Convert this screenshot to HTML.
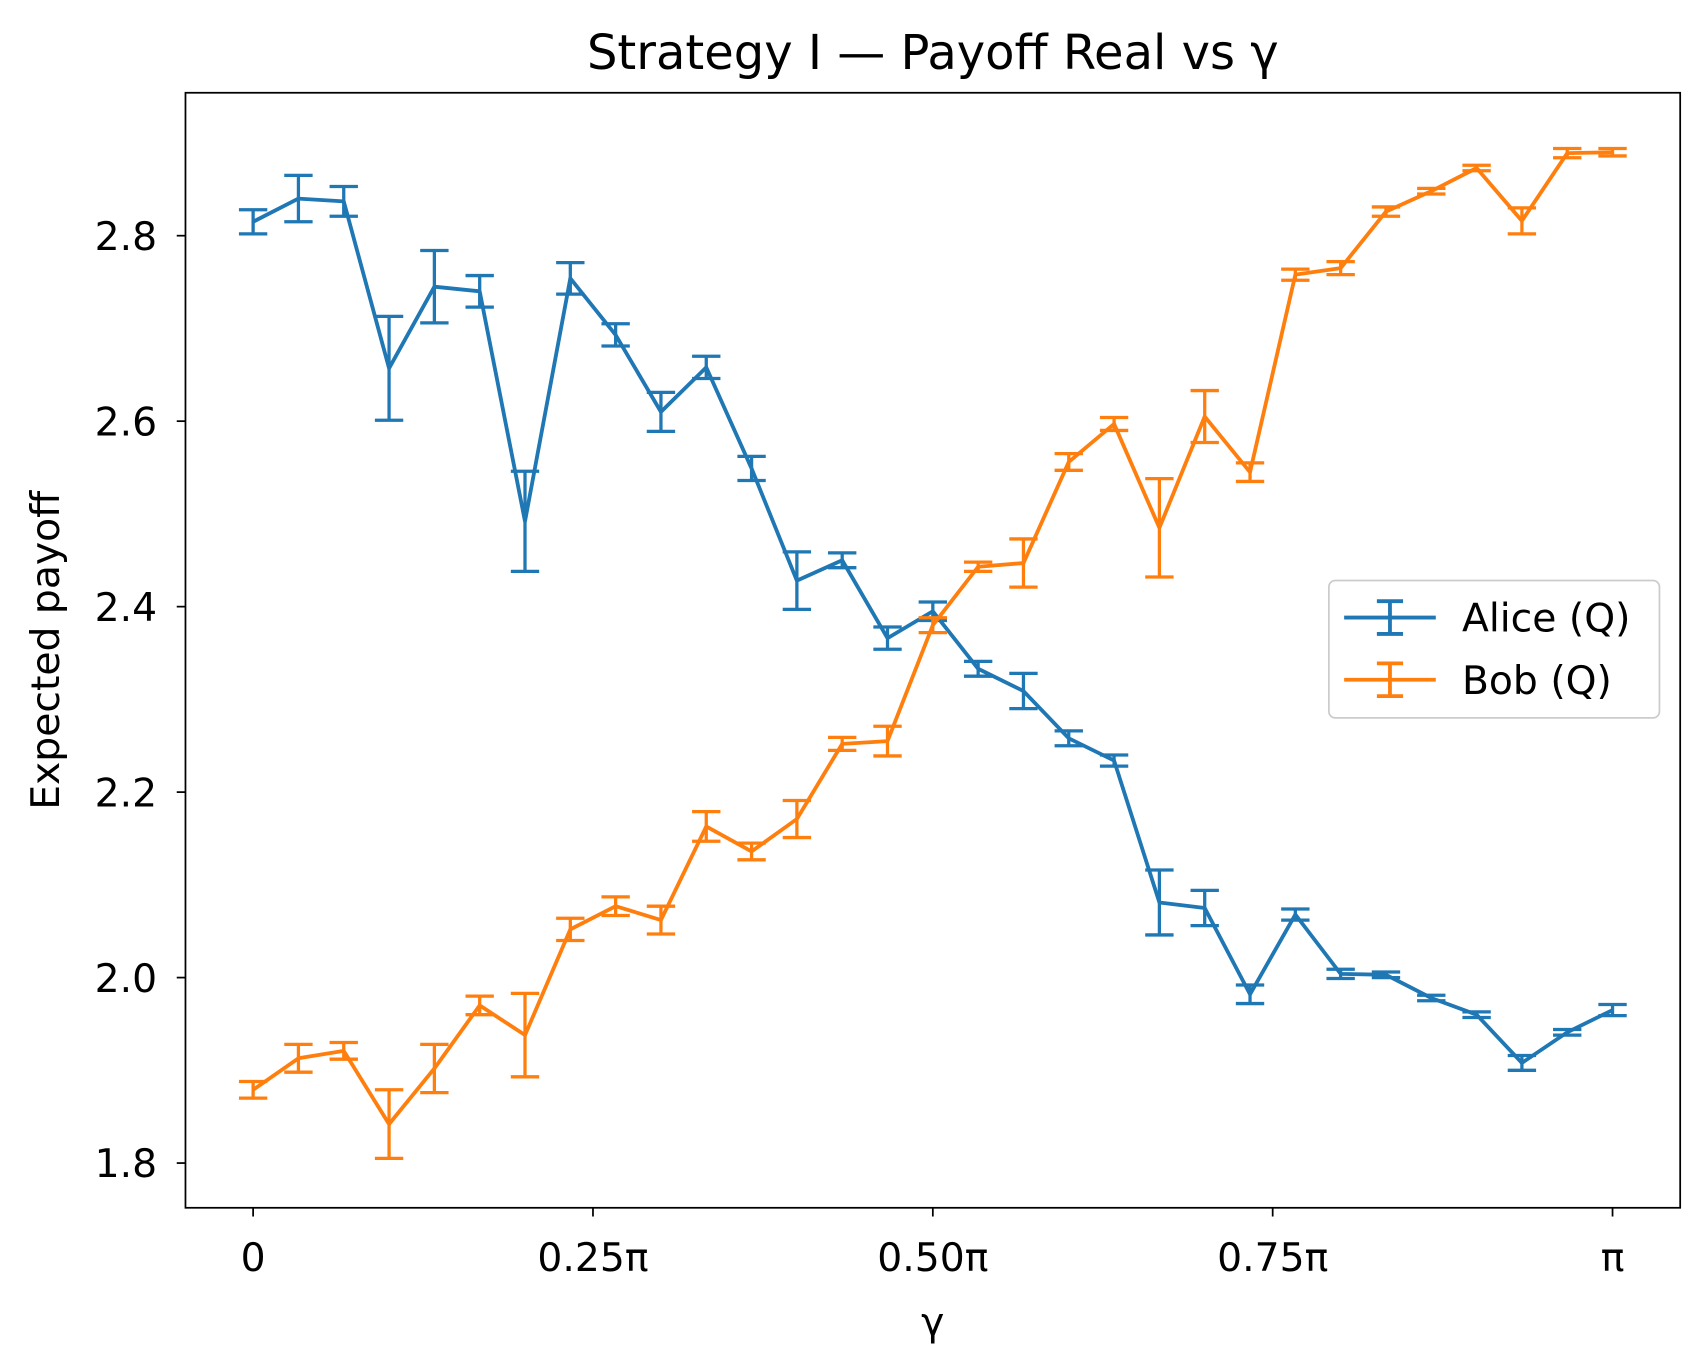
<!DOCTYPE html>
<html><head><meta charset="utf-8"><style>
body{margin:0;background:#fff}
svg{display:block;font-family:"DejaVu Sans","Liberation Sans",sans-serif}
</style></head><body>
<svg id="chart" width="1702" height="1361" viewBox="0 0 1560 1247.4">
<rect width="1560" height="1247.4" fill="#fff"/>
<g id="plot"></g>
</svg>
<script>
const alice=[2.815,2.840,2.837,2.657,2.745,2.740,2.492,2.754,2.693,2.610,2.658,2.549,2.428,2.450,2.366,2.395,2.333,2.309,2.258,2.234,2.081,2.075,1.982,2.068,2.004,2.003,1.978,1.960,1.908,1.941,1.965];
const aliceErr=[0.013,0.025,0.016,0.056,0.039,0.017,0.054,0.017,0.012,0.021,0.012,0.013,0.031,0.008,0.012,0.010,0.008,0.019,0.008,0.006,0.035,0.019,0.010,0.006,0.005,0.003,0.003,0.003,0.008,0.003,0.006];
const bob=[1.879,1.913,1.921,1.842,1.902,1.970,1.938,2.052,2.077,2.062,2.163,2.136,2.171,2.252,2.255,2.380,2.443,2.447,2.556,2.597,2.485,2.605,2.545,2.758,2.765,2.826,2.848,2.873,2.816,2.889,2.890];
const bobErr=[0.009,0.015,0.009,0.037,0.026,0.010,0.045,0.012,0.010,0.015,0.016,0.009,0.020,0.007,0.016,0.008,0.005,0.026,0.009,0.007,0.053,0.028,0.010,0.006,0.007,0.005,0.003,0.003,0.014,0.005,0.004];
const yTicks=[1.8,2.0,2.2,2.4,2.6,2.8];
const xTickVals=[0,0.25,0.5,0.75,1];
const xTickLabels=["0","0.25π","0.50π","0.75π","π"];
const L=170,R=1540,T=85,B=1107;
const X=f=>232+f*1246;
const Y=v=>1066-(v-1.8)*850;
const NS="http://www.w3.org/2000/svg";
const plot=document.getElementById('plot');
function mk(tag,attrs,parent){const e=document.createElementNS(NS,tag);for(const k in attrs)e.setAttribute(k,attrs[k]);(parent||plot).appendChild(e);return e;}
yTicks.forEach(v=>{
 const t=mk('line',{x1:L-8,x2:L,y1:Y(v),y2:Y(v),stroke:'#000','stroke-width':1.6});
 
 
 const tx=mk('text',{x:L-26,y:Y(v)+13,'text-anchor':'end','font-size':36});tx.textContent=v.toFixed(1);
 
 
});
xTickVals.forEach((v,i)=>{
 const t=mk('line',{x1:X(v),x2:X(v),y1:B,y2:B+8,stroke:'#000','stroke-width':1.6});
 
 
 const tx=mk('text',{x:X(v),y:B+58,'text-anchor':'middle','font-size':36});tx.textContent=xTickLabels[i];
 
 
});
function series(vals,errs,color,name){
 const g=mk('g',{});
 
 
 const n=vals.length;
 const pts=vals.map((v,i)=>X(i/(n-1))+','+Y(v)).join(' ');
 mk('polyline',{points:pts,fill:'none',stroke:color,'stroke-width':3.5,'stroke-linejoin':'round'},g);
 vals.forEach((v,i)=>{
  const x=X(i/(n-1)),y1=Y(v-errs[i]),y2=Y(v+errs[i]);
  const e=mk('path',{d:`M${x},${y1}V${y2}M${x-13},${y1}H${x+13}M${x-13},${y2}H${x+13}`,stroke:color,'stroke-width':3,fill:'none'},g);
  
  
 });
}
series(alice,aliceErr,'#1f77b4','alice');
series(bob,bobErr,'#ff7f0e','bob');
const fr=mk('rect',{x:L,y:T,width:R-L,height:B-T,fill:'none',stroke:'#000','stroke-width':1.6});


</script>
<svg width="1702" height="1361" style="position:absolute;left:0;top:0" viewBox="0 0 1560 1247.4">
<text x="855" y="63" text-anchor="middle" font-size="44">Strategy I — Payoff Real vs γ</text>
<text x="855" y="1224" text-anchor="middle" font-size="36">γ</text>
<text transform="translate(54,596) rotate(-90)" text-anchor="middle" font-size="36">Expected payoff</text>
<g>
<rect x="1218" y="532" width="303" height="126" rx="6" fill="#fff" fill-opacity="0.8" stroke="#ccc" stroke-width="1.6"/>
<g>
<path d="M1232,566H1316M1274,551V581M1262,551H1286M1262,581H1286" stroke="#1f77b4" stroke-width="3.5" fill="none"/>
<text x="1340" y="579" font-size="36">Alice (Q)</text></g>
<g>
<path d="M1232,623H1316M1274,608V638M1262,608H1286M1262,638H1286" stroke="#ff7f0e" stroke-width="3.5" fill="none"/>
<text x="1340" y="636" font-size="36">Bob (Q)</text></g>
</g>
</svg>
</body></html>
